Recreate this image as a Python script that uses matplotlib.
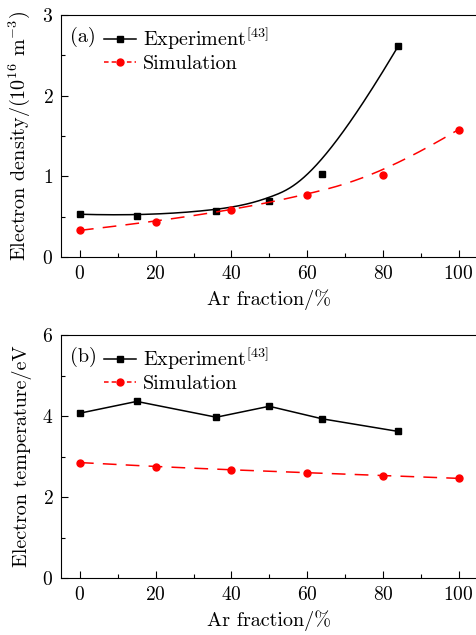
import numpy as np
import matplotlib
matplotlib.use('Agg')
import matplotlib.pyplot as plt
from matplotlib.ticker import MultipleLocator

plt.rcParams['font.family'] = 'cmr10'
plt.rcParams['mathtext.fontset'] = 'cm'
plt.rcParams['axes.formatter.use_mathtext'] = True
plt.rcParams['font.size'] = 14.5

# (a) electron density
exp_x = [0, 15, 36, 50, 64, 84]
exp_ne = [0.53, 0.51, 0.57, 0.70, 1.03, 2.61]
sim_x = [0, 20, 40, 60, 80, 100]
sim_ne = [0.33, 0.44, 0.58, 0.77, 1.02, 1.58]

# (b) electron temperature
exp_te = [4.07, 4.36, 3.97, 4.24, 3.93, 3.62]
sim_te = [2.85, 2.75, 2.67, 2.60, 2.53, 2.46]

fig = plt.figure(figsize=(4.76, 6.35), dpi=100)
W, H = 476, 635


def bspline(xs, ys, n=300, k=3):
    # clamped cubic B-spline using the data points as control points
    pts = np.column_stack([xs, ys]).astype(float)
    m = len(pts)
    inner = np.linspace(0, 1, m - k + 1)
    knots = np.concatenate([[0] * k, inner, [1] * k])
    t = np.linspace(0, 1, n)
    t[-1] = 1 - 1e-9

    def basis(i, p, t):
        if p == 0:
            return ((knots[i] <= t) & (t < knots[i + 1])).astype(float)
        a = 0.0
        b = 0.0
        if knots[i + p] != knots[i]:
            a = (t - knots[i]) / (knots[i + p] - knots[i]) * basis(i, p - 1, t)
        if knots[i + p + 1] != knots[i + 1]:
            b = (knots[i + p + 1] - t) / (knots[i + p + 1] - knots[i + 1]) * basis(i + 1, p - 1, t)
        return a + b

    out = sum(basis(i, k, t)[:, None] * pts[i] for i in range(m))
    return out[:, 0], out[:, 1]


def make_ax(top, bottom):
    left, right = 61, 477.5
    return fig.add_axes([left / W, 1 - bottom / H, (right - left) / W, (bottom - top) / H])


def style(ax, ymax, ymajor, yminor):
    ax.set_xlim(-5, 105)
    ax.set_ylim(0, ymax)
    ax.xaxis.set_major_locator(MultipleLocator(20))
    ax.xaxis.set_minor_locator(MultipleLocator(10))
    ax.yaxis.set_major_locator(MultipleLocator(ymajor))
    ax.yaxis.set_minor_locator(MultipleLocator(yminor))
    ax.tick_params(which='both', direction='in', top=False, right=False,
                   labelsize=14, pad=5.5)
    ax.tick_params(which='major', length=5, width=0.8)
    ax.tick_params(which='minor', length=3, width=0.8)
    ax.set_xlabel('Ar fraction/%', labelpad=5)


red = '#ff0000'
dash = (0, (9, 6))

ax1 = make_ax(15, 257)
bx, by = bspline(exp_x, exp_ne)
ax1.plot(bx, by, color='black', lw=1.1)
ax1.plot(exp_x, exp_ne, 's', color='black', ms=4.5)
sx, sy = bspline(sim_x, sim_ne)
ax1.plot(sx, sy, color=red, lw=1.1, ls=dash)
ax1.plot(sim_x, sim_ne, 'o', color=red, ms=5)
style(ax1, 3, 1, 0.5)
ax1.set_ylabel('Electron density/(10$^{16}$ m$^{-3}$)')
ax1.text(0.022, 0.95, '(a)', transform=ax1.transAxes, ha='left', va='top')

ax2 = make_ax(335, 578)
ax2.plot(exp_x, exp_te, '-s', color='black', lw=1.1, ms=4.5)
sx, sy = bspline(sim_x, sim_te)
ax2.plot(sx, sy, color=red, lw=1.1, ls=dash)
ax2.plot(sim_x, sim_te, 'o', color=red, ms=5)
style(ax2, 6, 2, 1)
ax2.set_ylabel('Electron temperature/eV')
ax2.text(0.022, 0.95, '(b)', transform=ax2.transAxes, ha='left', va='top')

for ax in (ax1, ax2):
    ax.plot([], [], '-s', color='black', lw=1.1, ms=4.5, label='Experiment$^{[43]}$')
    ax.plot([], [], 'o', color=red, ls=(0, (3, 2)), lw=1.1, ms=5, label='Simulation')
    ax.legend(loc='upper left', bbox_to_anchor=(0.072, 1.01), frameon=False,
              handlelength=1.6, handletextpad=0.35, labelspacing=0.15,
              borderaxespad=0.25)
    ax.yaxis.set_label_coords(-0.07, 0.5)

fig.savefig('out.png', dpi=100)
